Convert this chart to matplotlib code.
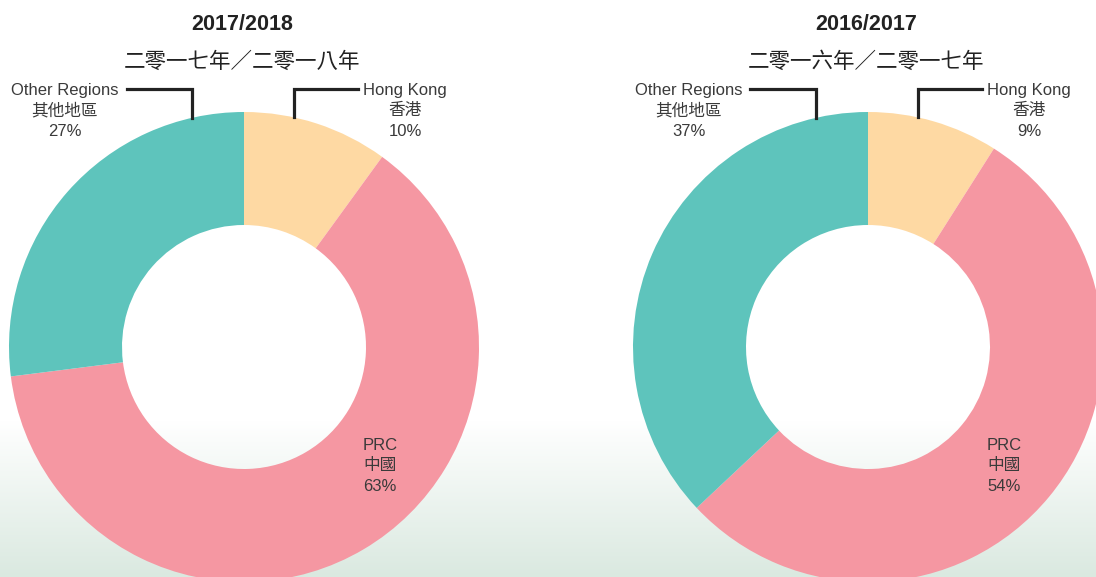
import numpy as np
import matplotlib

matplotlib.use("Agg")
import matplotlib.pyplot as plt
from matplotlib.colors import to_rgb

W, H = 1096, 577

# data
regions = ["Hong Kong", "PRC", "Other Regions"]
regions_zh = ["香港", "中國", "其他地區"]
share_1718 = [10, 63, 27]
share_1617 = [9, 54, 37]
years = ["2017/2018", "2016/2017"]
years_zh = ["二零一七年／二零一八年", "二零一六年／二零一七年"]

colors = ["#FED9A3", "#F597A2", "#5EC4BC"]
TEXT = "#3a3a3a"
FAM = ["Liberation Sans", "Noto Sans CJK TC", "DejaVu Sans"]

R_OUT, R_IN = 235, 122


def py(y):
    # pixel row (from top) -> data y (from bottom)
    return H - y


fig = plt.figure(figsize=(W / 100, H / 100), dpi=100)
ax = fig.add_axes([0, 0, 1, 1])

# soft white-to-green background at the bottom
rows = np.arange(H)
t = np.clip((rows - 420) / (H - 420), 0, 1)[:, None]
top = np.array(to_rgb("#ffffff"))
bot = np.array(to_rgb("#dae9e0"))
grad = (1 - t) * top + t * bot
img = np.repeat(grad[:, None, :], 2, axis=1)
ax.imshow(img, extent=(0, W, 0, H), aspect="auto", zorder=0, origin="upper")

panels = [
    dict(cx=244, vals=share_1718, other_x=65, hk_x=405, prc_x=380,
         o_line=(127, 192), hk_line=(294, 358)),
    dict(cx=868, vals=share_1617, other_x=689, hk_x=1029, prc_x=1004,
         o_line=(750, 816), hk_line=(918, 982)),
]
cy = py(347)

for i, p in enumerate(panels):
    cx = p["cx"]
    ax.pie(p["vals"], colors=colors, startangle=90, counterclock=False,
           center=(cx, cy), radius=R_OUT,
           wedgeprops=dict(width=R_OUT - R_IN, linewidth=0))

    ax.text(cx - 2, py(25), years[i], ha="center", va="center",
            fontsize=15.5, fontweight="bold", color="#222222", family=FAM)
    ax.text(cx - 2, py(62), years_zh[i], ha="center", va="center",
            fontsize=15.5, color="#222222", family=FAM)

    def label(x, idx, pct, y0):
        ax.text(x, py(y0), regions[idx], ha="center", va="baseline",
                fontsize=12, color=TEXT, family=FAM)
        ax.text(x, py(y0 + 20), regions_zh[idx], ha="center", va="baseline",
                fontsize=12, color=TEXT, family=FAM)
        ax.text(x, py(y0 + 41), f"{pct}%", ha="center", va="baseline",
                fontsize=12, color=TEXT, family=FAM)

    label(p["other_x"], 2, p["vals"][2], 95)
    label(p["hk_x"], 0, p["vals"][0], 95)
    label(p["prc_x"], 1, p["vals"][1], 450)

    # leader lines: horizontal then down to the outer edge
    x0, x1 = p["o_line"]
    ye = cy + np.sqrt(R_OUT ** 2 - (x1 - cx) ** 2)
    ax.plot([x0, x1, x1], [py(89), py(89), ye], color="#222222", lw=2.3,
            solid_joinstyle="miter", zorder=1)
    x0, x1 = p["hk_line"]
    ye = cy + np.sqrt(R_OUT ** 2 - (x0 - cx) ** 2)
    ax.plot([x0, x0, x1], [ye, py(89), py(89)], color="#222222", lw=2.3,
            solid_joinstyle="miter", zorder=1)

ax.set_xlim(0, W)
ax.set_ylim(0, H)
ax.set_aspect("auto")
ax.axis("off")

fig.savefig("out.png", dpi=100)
